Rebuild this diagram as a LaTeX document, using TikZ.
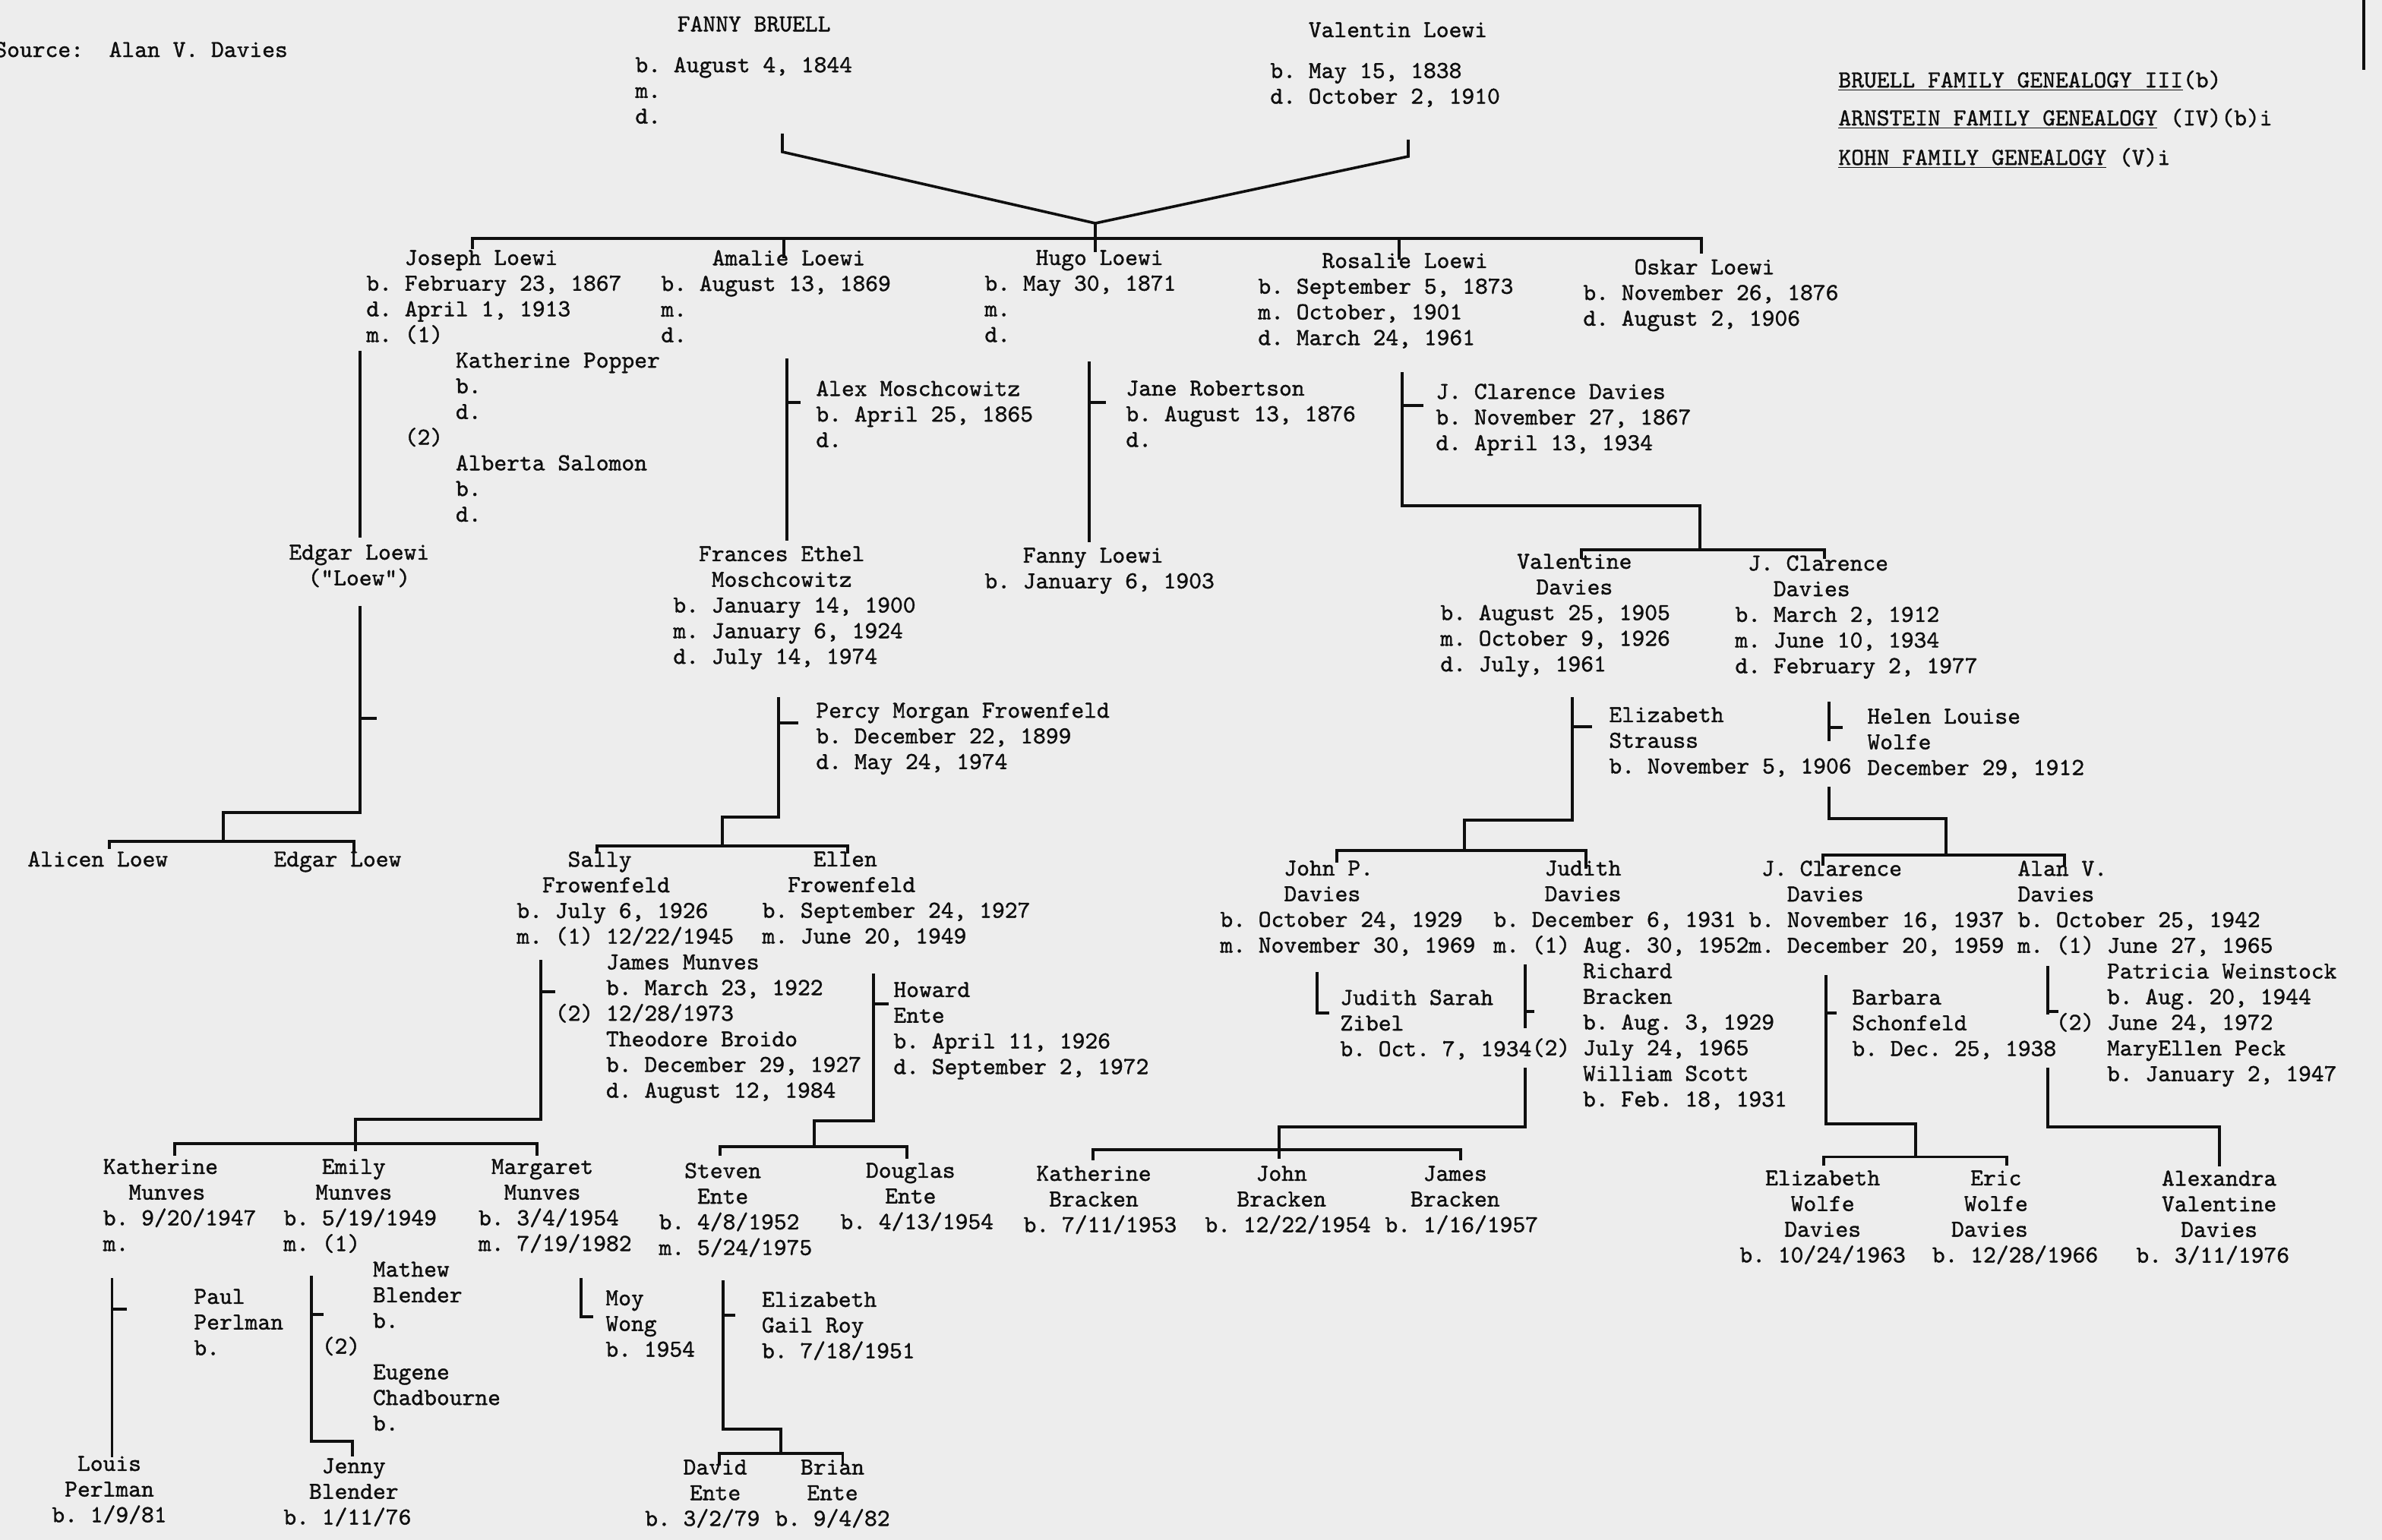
\documentclass[tikz,border=0pt]{standalone}
\usepackage{fontspec}
\setmonofont{lmmono10-regular.otf}[FakeBold=1.2]
\usetikzlibrary{calc}

\definecolor{paper}{RGB}{237,237,237}
\definecolor{ink}{RGB}{15,15,15}
\newlength\cw \setlength\cw{8.4pt}
\newcommand\ind[1]{\hspace*{#1\cw}}
\newcommand\tyfont{\ttfamily\fontsize{16}{16.9}\selectfont\frenchspacing}

\tikzset{
  entry/.style={anchor=north west,inner sep=0pt,align=left,font=\tyfont,text=ink,
    yshift=7.5pt,execute at begin node=\strut},
  link/.style={draw=ink,line width=1.8pt},
}

\begin{document}
\begin{tikzpicture}[x=1pt,y=-1pt]
\fill[paper] (0,0) rectangle (1568,1014);
\useasboundingbox (0,0) rectangle (1568,1014);

% headings
\node[entry] (src) at (-4,33) {Source:\ind{1} Alan V. Davies};
\node[entry] (bruell) at (1210,53) {\underline{BRUELL FAMILY GENEALOGY III}(b)};
\node[entry] (arnstein) at (1210,78) {\underline{ARNSTEIN FAMILY GENEALOGY} (IV)(b)i};
\node[entry] (kohn) at (1210,104) {\underline{KOHN FAMILY GENEALOGY} (V)i};

% first couple
\node[entry] (fanny) at (418,18) {\ind{3.3}FANNY BRUELL\\[10pt] b. August 4, 1844\\ m.\\ d.};
\node[entry] (valentin) at (836,22) {\ind{3}Valentin Loewi\\[10pt] b. May 15, 1838\\ d. October 2, 1910};

% children
\node[entry] (joseph) at (241,172) {\ind{3}Joseph Loewi\\ b. February 23, 1867\\ d. April 1, 1913\\ m. (1)\\
  \ind{7}Katherine Popper\\ \ind{7}b.\\ \ind{7}d.\\ \ind{3}(2)\\ \ind{7}Alberta Salomon\\ \ind{7}b.\\ \ind{7}d.};
\node[entry] (amalie) at (435,172) {\ind{4}Amalie Loewi\\ b. August 13, 1869\\ m.\\ d.};
\node[entry] (alex) at (537,258) {Alex Moschcowitz\\ b. April 25, 1865\\ d.};
\node[entry] (hugo) at (648,172) {\ind{4}Hugo Loewi\\ b. May 30, 1871\\ m.\\ d.};
\node[entry] (jane) at (741,258) {Jane Robertson\\ b. August 13, 1876\\ d.};
\node[entry] (rosalie) at (828,174) {\ind{5}Rosalie Loewi\\ b. September 5, 1873\\ m. October, 1901\\ d. March 24, 1961};
\node[entry] (jclarence) at (945,260) {J. Clarence Davies\\ b. November 27, 1867\\ d. April 13, 1934};
\node[entry] (oskar) at (1042,178) {\ind{4}Oskar Loewi\\ b. November 26, 1876\\ d. August 2, 1906};

% grandchildren
\node[entry] (edgar) at (190,366) {Edgar Loewi\\ \ind{1.5}("Loew")};
\node[entry] (alicen) at (18,566) {Alicen Loew};
\node[entry] (edgarjr) at (180,566) {Edgar Loew};
\node[entry] (frances) at (443,367) {\ind{2}Frances Ethel\\ \ind{3}Moschcowitz\\ b. January 14, 1900\\ m. January 6, 1924\\ d. July 14, 1974};
\node[entry] (percy) at (537,470) {Percy Morgan Frowenfeld\\ b. December 22, 1899\\ d. May 24, 1974};
\node[entry] (fannyl) at (648,368) {\ind{3}Fanny Loewi\\ b. January 6, 1903};
\node[entry] (valentine) at (948,372) {\ind{6}Valentine\\ \ind{7.5}Davies\\ b. August 25, 1905\\ m. October 9, 1926\\ d. July, 1961};
\node[entry] (jclarjr) at (1142,373) {\ind{1}J. Clarence\\ \ind{3}Davies\\ b. March 2, 1912\\ m. June 10, 1934\\ d. February 2, 1977};
\node[entry] (strauss) at (1059,473) {Elizabeth\\ Strauss\\ b. November 5, 1906};
\node[entry] (helen) at (1229,474) {Helen Louise\\ Wolfe\\ December 29, 1912};

% great-grandchildren
\node[entry] (sally) at (340,568) {\ind{4}Sally\\ \ind{2}Frowenfeld\\ b. July 6, 1926\\ m. (1) 12/22/1945\\
  \ind{7}James Munves\\ \ind{7}b. March 23, 1922\\ \ind{3}(2) 12/28/1973\\ \ind{7}Theodore Broido\\
  \ind{7}b. December 29, 1927\\ \ind{7}d. August 12, 1984};
\node[entry] (ellen) at (501.6,568) {\ind{4}Ellen\\ \ind{2}Frowenfeld\\ b. September 24, 1927\\ m. June 20, 1949};
\node[entry] (howard) at (588,654) {Howard\\ Ente\\ b. April 11, 1926\\ d. September 2, 1972};
\node[entry] (johnp) at (803,574) {\ind{5}John P.\\ \ind{5}Davies\\ b. October 24, 1929\\ m. November 30, 1969};
\node[entry] (zibel) at (882,659) {Judith Sarah\\ Zibel\\ b. Oct. 7, 1934};
\node[entry] (judith) at (983,574) {\ind{4}Judith\\ \ind{4}Davies\\ b. December 6, 1931\\ m. (1) Aug. 30, 1952\\
  \ind{7}Richard\\ \ind{7}Bracken\\ \ind{7}b. Aug. 3, 1929\\ \ind{3}(2) July 24, 1965\\ \ind{7}William Scott\\ \ind{7}b. Feb. 18, 1931};
\node[entry] (jclar3) at (1151,574) {\ind{1}J. Clarence\\ \ind{3}Davies\\ b. November 16, 1937\\ m. December 20, 1959};
\node[entry] (barbara) at (1219,659) {Barbara\\ Schonfeld\\ b. Dec. 25, 1938};
\node[entry] (alan) at (1328,574) {Alan V.\\ Davies\\ b. October 25, 1942\\ m. (1) June 27, 1965\\
  \ind{7}Patricia Weinstock\\ \ind{7}b. Aug. 20, 1944\\ \ind{3}(2) June 24, 1972\\ \ind{7}MaryEllen Peck\\ \ind{7}b. January 2, 1947};

% fifth generation
\node[entry] (kmunves) at (67.7,770.5) {Katherine\\ \ind{2}Munves\\ b. 9/20/1947\\ m.};
\node[entry] (paul) at (127.5,856) {Paul\\ Perlman\\ b.};
\node[entry] (louis) at (34,966) {\ind{2}Louis\\ \ind{1}Perlman\\ b. 1/9/81};
\node[entry] (emily) at (186.5,770.5) {\ind{3}Emily\\ \ind{2.5}Munves\\ b. 5/19/1949\\ m. (1)\\
  \ind{7}Mathew\\ \ind{7}Blender\\ \ind{7}b.\\ \ind{3}(2)\\ \ind{7}Eugene\\ \ind{7}Chadbourne\\ \ind{7}b.};
\node[entry] (jenny) at (186.5,967.5) {\ind{3}Jenny\\ \ind{2}Blender\\ b. 1/11/76};
\node[entry] (margaret) at (314.8,770.5) {\ind{1}Margaret\\ \ind{2}Munves\\ b. 3/4/1954\\ m. 7/19/1982};
\node[entry] (moy) at (398.5,857) {Moy\\ Wong\\ b. 1954};
\node[entry] (steven) at (433.6,773) {\ind{2}Steven\\ \ind{3}Ente\\ b. 4/8/1952\\ m. 5/24/1975};
\node[entry] (gailroy) at (501.3,858) {Elizabeth\\ Gail Roy\\ b. 7/18/1951};
\node[entry] (douglas) at (553,773) {\ind{2}Douglas\\ \ind{3.5}Ente\\ b. 4/13/1954};
\node[entry] (david) at (424.4,968.4) {\ind{3}David\\ \ind{3.5}Ente\\ b. 3/2/79};
\node[entry] (brian) at (510,968.4) {\ind{2}Brian\\ \ind{2.5}Ente\\ b. 9/4/82};
\node[entry] (kbracken) at (673.6,775) {\ind{1}Katherine\\ \ind{2}Bracken\\ b. 7/11/1953};
\node[entry] (jbracken) at (793,775) {\ind{4}John\\ \ind{2.5}Bracken\\ b. 12/22/1954};
\node[entry] (jmbracken) at (911.5,775) {\ind{3}James\\ \ind{2}Bracken\\ b. 1/16/1957};
\node[entry] (elizw) at (1145,778) {\ind{2}Elizabeth\\ \ind{4}Wolfe\\ \ind{3.5}Davies\\ b. 10/24/1963};
\node[entry] (eric) at (1271.7,778) {\ind{3}Eric\\ \ind{2.5}Wolfe\\ \ind{1.5}Davies\\ b. 12/28/1966};
\node[entry] (alexandra) at (1406,778) {\ind{2}Alexandra\\ \ind{2}Valentine\\ \ind{3.5}Davies\\ b. 3/11/1976};

% connectors
\coordinate (fb0) at (515,88);  \coordinate (fb1) at (515,100);
\coordinate (vl0) at (927,92);  \coordinate (vl1) at (927,103);
\coordinate (apex) at (721,147); \coordinate (hugotop) at (721,166);
\draw[link] (fb0) -- (fb1) -- (apex) -- (vl1) -- (vl0);
\draw[link] (apex) -- (hugotop);
\coordinate (g2L) at (311,157); \coordinate (g2R) at (1120,157);
\coordinate (g2a) at (516,157); \coordinate (g2r) at (921,157);
\draw[link] ([yshift=-7pt]g2L) -- (g2L) -- (g2R) -- ([yshift=-10pt]g2R);
\draw[link] (g2a) -- ++(0,13);
\draw[link] (g2r) -- ++(0,14);

\coordinate (jo0) at (237,231); \coordinate (jo1) at (237,354);
\draw[link] (jo0) -- (jo1);
\coordinate (am0) at (518,236); \coordinate (am1) at (518,356); \coordinate (amk) at (518,265);
\draw[link] (am0) -- (am1); \draw[link] (amk) -- ++(9,0);
\coordinate (hu0) at (717,238); \coordinate (hu1) at (717,357); \coordinate (huk) at (717,265);
\draw[link] (hu0) -- (hu1); \draw[link] (huk) -- ++(11,0);
\coordinate (ro0) at (923,245); \coordinate (rok) at (923,267);
\coordinate (ro1) at (1119,333); \coordinate (ro2) at (1119,362);
\draw[link] (ro0) |- (ro1) -- (ro2); \draw[link] (rok) -- ++(14,0);
\coordinate (rcL) at (1041,362); \coordinate (rcR) at (1201,362);
\draw[link] ([yshift=-6pt]rcL) -- (rcL) -- (rcR) -- ([yshift=-6pt]rcR);

\coordinate (ed0) at (237,399); \coordinate (edk) at (237,473);
\coordinate (ed1) at (147,535); \coordinate (ed2) at (147,554);
\draw[link] (ed0) |- (ed1) -- (ed2); \draw[link] (edk) -- ++(11,0);
\coordinate (ecL) at (72,554); \coordinate (ecR) at (233,554);
\draw[link] ([yshift=-5pt]ecL) -- (ecL) -- (ecR) -- ([yshift=-7pt]ecR);

\coordinate (fr0) at (512.6,459); \coordinate (frk) at (512.6,476);
\coordinate (fr1) at (475.6,538); \coordinate (fr2) at (475.6,557);
\draw[link] (fr0) |- (fr1) -- (fr2); \draw[link] (frk) -- ++(13,0);
\coordinate (fcL) at (393,557); \coordinate (fcR) at (558,557);
\draw[link] ([yshift=-5pt]fcL) -- (fcL) -- (fcR) -- ([yshift=-5pt]fcR);

\coordinate (va0) at (1035,459); \coordinate (vak) at (1035,478.5);
\coordinate (va1) at (964,540); \coordinate (va2) at (964,560);
\draw[link] (va0) |- (va1) -- (va2); \draw[link] (vak) -- ++(13,0);
\coordinate (vcL) at (880,560); \coordinate (vcR) at (1044,560);
\draw[link] ([yshift=-8pt]vcL) -- (vcL) -- (vcR) -- ([yshift=-12pt]vcR);

\coordinate (jc0) at (1204,462); \coordinate (jc1) at (1204,488); \coordinate (jck) at (1204,479);
\coordinate (jc2) at (1204,518); \coordinate (jc3) at (1281,539); \coordinate (jc4) at (1281,563);
\draw[link] (jc0) -- (jc1); \draw[link] (jck) -- ++(9,0);
\draw[link] (jc2) |- (jc3) -- (jc4);
\coordinate (jcL) at (1200,563); \coordinate (jcR) at (1359,563);
\draw[link] ([yshift=-7pt]jcL) -- (jcL) -- (jcR) -- ([yshift=-7pt]jcR);

\coordinate (sa0) at (356,632); \coordinate (sak) at (356,653);
\coordinate (sa1) at (234,737); \coordinate (sa2) at (234,753);
\draw[link] (sa0) |- (sa1) -- (sa2); \draw[link] (sak) -- ++(9.6,0);
\coordinate (scL) at (115,753); \coordinate (scR) at (353.5,753);
\draw[link] ([yshift=-8pt]scL) -- (scL) -- (scR) -- ([yshift=-8pt]scR);
\draw[link] (sa2) -- ++(0,5);

\coordinate (el0) at (575,641); \coordinate (elk) at (575,661);
\coordinate (el1) at (536,738); \coordinate (el2) at (536,755);
\draw[link] (el0) |- (el1) -- (el2); \draw[link] (elk) -- ++(10,0);
\coordinate (enL) at (474,755); \coordinate (enR) at (597,755);
\draw[link] ([yshift=-6pt]enL) -- (enL) -- (enR) -- ([yshift=-8pt]enR);

\coordinate (jp0) at (867,640); \coordinate (jp1) at (875,667);
\draw[link] (jp0) |- (jp1);

\coordinate (ju0) at (1004,635); \coordinate (ju1) at (1004,677); \coordinate (juk) at (1004,666);
\coordinate (ju2) at (1004,703); \coordinate (ju3) at (842,742); \coordinate (ju4) at (842,757);
\draw[link] (ju0) -- (ju1); \draw[link] (juk) -- ++(6,0);
\draw[link] (ju2) |- (ju3) -- (ju4);
\coordinate (bkL) at (719.5,757); \coordinate (bkR) at (961.6,757);
\draw[link] ([yshift=-7pt]bkL) -- (bkL) -- (bkR) -- ([yshift=-7pt]bkR);
\draw[link] (ju4) -- ++(0,6);

\coordinate (jd0) at (1202,642); \coordinate (jdk) at (1202,667);
\coordinate (jd1) at (1261,740); \coordinate (jd2) at (1261,761.7);
\draw[link] (jd0) |- (jd1) -- (jd2); \draw[link] (jdk) -- ++(7,0);
\coordinate (wdL) at (1200.6,761.7); \coordinate (wdR) at (1321,761.7);
\draw[link] ([yshift=-6pt]wdL) -- (wdL) -- (wdR) -- ([yshift=-6pt]wdR);

\coordinate (al0) at (1348,636); \coordinate (al1) at (1348,668); \coordinate (alk) at (1348,666);
\coordinate (al2) at (1348,703); \coordinate (al3) at (1461,742); \coordinate (al4) at (1461,768);
\draw[link] (al0) -- (al1); \draw[link] (alk) -- ++(7,0);
\draw[link] (al2) |- (al3) -- (al4);

\coordinate (km0) at (73.7,841.5); \coordinate (km1) at (73.7,959.5); \coordinate (kmk) at (73.7,862);
\draw[link] (km0) -- (km1); \draw[link] (kmk) -- ++(10,0);
\coordinate (em0) at (205,840); \coordinate (emk) at (205,865.5);
\coordinate (em1) at (232,949); \coordinate (em2) at (232,959);
\draw[link] (em0) |- (em1) -- (em2); \draw[link] (emk) -- ++(8,0);
\coordinate (mg0) at (382.6,841.5); \coordinate (mg1) at (390.6,867);
\draw[link] (mg0) |- (mg1);
\coordinate (st0) at (476,843); \coordinate (stk) at (476,866);
\coordinate (st1) at (514,941); \coordinate (st2) at (514,957);
\draw[link] (st0) |- (st1) -- (st2); \draw[link] (stk) -- ++(8,0);
\coordinate (deL) at (473.4,957); \coordinate (deR) at (554.7,957);
\draw[link] ([yshift=-7pt]deL) -- (deL) -- (deR) -- ([yshift=-7pt]deR);

% page edge
\coordinate (edge0) at (1556,0); \coordinate (edge1) at (1556,46);
\draw[link,line width=2.4pt] (edge0) -- (edge1);
\end{tikzpicture}
\end{document}
